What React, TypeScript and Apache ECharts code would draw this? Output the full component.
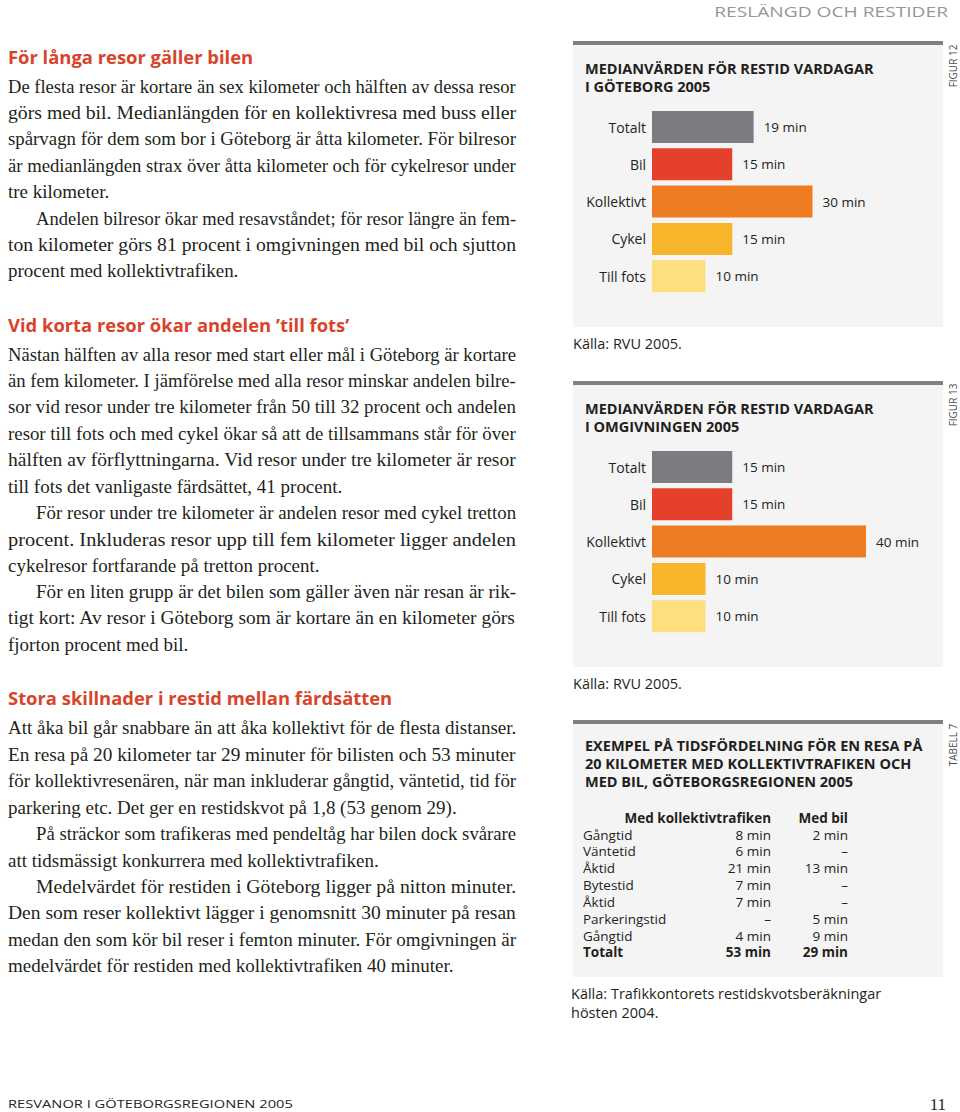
import React, { useEffect, useRef } from "react";
import * as echarts from "echarts";

// ---------- data ----------
const categories = ["Totalt", "Bil", "Kollektivt", "Cykel", "Till fots"];
const goteborgMinutes = [19, 15, 30, 15, 10];
const omgivningenMinutes = [15, 15, 40, 10, 10];
const modeColors = ["#7e7b80", "#e5412a", "#ed7c22", "#f6b52a", "#fddf7f"];

const tableHeader = ["Med kollektivtrafiken", "Med bil"];
const tableRows = ["Gångtid", "Väntetid", "Åktid", "Bytestid", "Åktid", "Parkeringstid", "Gångtid", "Totalt"];
const tableKollektiv = ["8 min", "6 min", "21 min", "7 min", "7 min", "–", "4 min", "53 min"];
const tableBil = ["2 min", "–", "13 min", "–", "–", "5 min", "9 min", "29 min"];

const fig12Title = ["MEDIANVÄRDEN FÖR RESTID VARDAGAR", "I GÖTEBORG 2005"];
const fig13Title = ["MEDIANVÄRDEN FÖR RESTID VARDAGAR", "I OMGIVNINGEN 2005"];
const table7Title = [
  "EXEMPEL PÅ TIDSFÖRDELNING FÖR EN RESA PÅ",
  "20 KILOMETER MED KOLLEKTIVTRAFIKEN OCH",
  "MED BIL, GÖTEBORGSREGIONEN 2005",
];
const sourceRvu = "Källa: RVU 2005.";
const sourceTable = ["Källa: Trafikkontorets restidskvotsberäkningar", "hösten 2004."];

const pageHeader = "RESLÄNGD OCH RESTIDER";
const pageFooter = "RESVANOR I GÖTEBORGSREGIONEN 2005";
const pageNumber = "11";

const section1Heading = "För långa resor gäller bilen";
const section1Paragraphs = [
  [
    "De flesta resor är kortare än sex kilometer och hälften av dessa resor",
    "görs med bil. Medianlängden för en kollektivresa med buss eller",
    "spårvagn för dem som bor i Göteborg är åtta kilometer. För bilresor",
    "är medianlängden strax över åtta kilometer och för cykelresor under",
    "tre kilometer.",
  ],
  [
    "Andelen bilresor ökar med resavståndet; för resor längre än fem-",
    "ton kilometer görs 81 procent i omgivningen med bil och sjutton",
    "procent med kollektivtrafiken.",
  ],
];
const section2Heading = "Vid korta resor ökar andelen ’till fots’";
const section2Paragraphs = [
  [
    "Nästan hälften av alla resor med start eller mål i Göteborg är kortare",
    "än fem kilometer. I jämförelse med alla resor minskar andelen bilre-",
    "sor vid resor under tre kilometer från 50 till 32 procent och andelen",
    "resor till fots och med cykel ökar så att de tillsammans står för över",
    "hälften av förflyttningarna. Vid resor under tre kilometer är resor",
    "till fots det vanligaste färdsättet, 41 procent.",
  ],
  [
    "För resor under tre kilometer är andelen resor med cykel tretton",
    "procent. Inkluderas resor upp till fem kilometer ligger andelen",
    "cykelresor fortfarande på tretton procent.",
  ],
  [
    "För en liten grupp är det bilen som gäller även när resan är rik-",
    "tigt kort: Av resor i Göteborg som är kortare än en kilometer görs",
    "fjorton procent med bil.",
  ],
];
const section3Heading = "Stora skillnader i restid mellan färdsätten";
const section3Paragraphs = [
  [
    "Att åka bil går snabbare än att åka kollektivt för de flesta distanser.",
    "En resa på 20 kilometer tar 29 minuter för bilisten och 53 minuter",
    "för kollektivresenären, när man inkluderar gångtid, väntetid, tid för",
    "parkering etc. Det ger en restidskvot på 1,8 (53 genom 29).",
  ],
  [
    "På sträckor som trafikeras med pendeltåg har bilen dock svårare",
    "att tidsmässigt konkurrera med kollektivtrafiken.",
  ],
  [
    "Medelvärdet för restiden i Göteborg ligger på nitton minuter.",
    "Den som reser kollektivt lägger i genomsnitt 30 minuter på resan",
    "medan den som kör bil reser i femton minuter. För omgivningen är",
    "medelvärdet för restiden med kollektivtrafiken 40 minuter.",
  ],
];

// ---------- styles ----------
const SANS = "'Open Sans', 'Noto Sans', 'DejaVu Sans', sans-serif";
const SERIF = "'Liberation Serif', 'DejaVu Serif', serif";
const INK = "#231f20";
const RED = "#d8432b";
const PANEL = "#f4f4f4";
const PANEL_BAR = "#808080";

export default function App() {
  const ref = useRef<HTMLDivElement>(null);

  useEffect(() => {
    if (!ref.current) return;
    const chart = echarts.init(ref.current, undefined, { renderer: "svg" });

    const ctx = document.createElement("canvas").getContext("2d")!;
    const measure = (text: string, font: string) => {
      ctx.font = font;
      return ctx.measureText(text).width;
    };

    const g: any[] = [];
    const text = (x: number, y: number, t: string, o: any = {}) => {
      g.push({
        type: "text",
        x,
        y,
        scaleX: o.scaleX ?? 1,
        rotation: o.rotation ?? 0,
        z: 10,
        style: {
          text: t,
          fill: o.fill ?? INK,
          fontSize: o.fontSize ?? 13,
          fontFamily: o.fontFamily ?? SANS,
          fontWeight: o.fontWeight ?? "normal",
          align: o.align ?? "left",
          verticalAlign: "middle",
        },
      });
    };

    // ----- prose (left column), justified per line -----
    const COL_X = 8;
    const COL_W = 508;
    const INDENT = 28;
    const LINE = 26.4;
    const BASE = 18;
    const baseFont = `${BASE}px ${SERIF}`;
    const allSections = [section1Paragraphs, section2Paragraphs, section3Paragraphs];
    const ratios: number[] = [];
    allSections.forEach((paras) =>
      paras.forEach((lines, pi) =>
        lines.forEach((l, li) => {
          if (li === lines.length - 1) return;
          const ind = pi > 0 && li === 0 ? INDENT : 0;
          ratios.push((COL_W - ind) / measure(l, baseFont));
        })
      )
    );
    ratios.sort((a, b) => a - b);
    const med = ratios[Math.floor(ratios.length / 2)];
    const bodySize = Math.max(15, Math.min(20, BASE * med));
    const bodyFont = `${bodySize}px ${SERIF}`;

    const layoutSection = (heading: string, hy: number, paras: string[][], by: number) => {
      text(COL_X, hy, heading, { fill: RED, fontSize: 18.4, fontWeight: "bold" });
      let k = 0;
      paras.forEach((lines, pi) =>
        lines.forEach((l, li) => {
          const ind = pi > 0 && li === 0 ? INDENT : 0;
          const last = li === lines.length - 1;
          const w = measure(l, bodyFont);
          let sx = last ? 1 : (COL_W - ind) / w;
          sx = Math.max(0.9, Math.min(1.12, sx));
          text(COL_X + ind, by + k * LINE, l, { fontSize: bodySize, fontFamily: SERIF, scaleX: sx });
          k++;
        })
      );
    };
    layoutSection(section1Heading, 56, section1Paragraphs, 86);
    layoutSection(section2Heading, 324, section2Paragraphs, 354);
    layoutSection(section3Heading, 697, section3Paragraphs, 728);

    // ----- page header / footer -----
    const hdrFont = `14px ${SANS}`;
    text(948, 12, pageHeader, {
      fill: "#969696",
      fontSize: 14,
      align: "right",
      scaleX: 234 / measure(pageHeader, hdrFont),
    });
    const ftrFont = `10.5px ${SANS}`;
    text(8, 1104, pageFooter, { fontSize: 10.5, scaleX: 285 / measure(pageFooter, ftrFont) });
    text(946, 1104, pageNumber, { fontSize: 17, fontFamily: SERIF, align: "right" });

    // ----- right column panels -----
    const PX = 573;
    const PW = 370;
    const panel = (top: number, bottom: number) => {
      g.push({ type: "rect", z: 0, shape: { x: PX, y: top, width: PW, height: bottom - top }, style: { fill: PANEL } });
      g.push({ type: "rect", z: 1, shape: { x: PX, y: top - 4, width: PW, height: 4 }, style: { fill: PANEL_BAR } });
    };
    panel(45, 327);
    panel(385, 667);
    panel(724, 977);

    const titleLines = (lines: string[], y0: number, step: number) =>
      lines.forEach((l, i) => text(585, y0 + i * step, l, { fontSize: 14.5, fontWeight: "bold" }));
    titleLines(fig12Title, 68.3, 18.6);
    titleLines(fig13Title, 408.3, 18.6);
    titleLines(table7Title, 745, 18.4);

    text(953, 66, "FIGUR 12", { fontSize: 10, rotation: Math.PI / 2, align: "center", fill: "#4a4a4a" });
    text(953, 405, "FIGUR 13", { fontSize: 10, rotation: Math.PI / 2, align: "center", fill: "#4a4a4a" });
    text(953, 745, "TABELL 7", { fontSize: 10, rotation: Math.PI / 2, align: "center", fill: "#4a4a4a" });

    text(573, 343, sourceRvu, { fontSize: 14.5 });
    text(573, 683, sourceRvu, { fontSize: 14.5 });

    // ----- table 7 -----
    const TY = 817.7;
    const TSTEP = 16.83;
    text(771, TY, tableHeader[0], { fontSize: 13.5, fontWeight: "bold", align: "right" });
    text(848, TY, tableHeader[1], { fontSize: 13.5, fontWeight: "bold", align: "right" });
    tableRows.forEach((r, i) => {
      const y = TY + (i + 1) * TSTEP;
      const bold = i === tableRows.length - 1 ? "bold" : "normal";
      text(583, y, r, { fontSize: 13.5, fontWeight: bold });
      text(771, y, tableKollektiv[i], { fontSize: 13.5, fontWeight: bold, align: "right" });
      text(848, y, tableBil[i], { fontSize: 13.5, fontWeight: bold, align: "right" });
    });
    text(571, 993, sourceTable[0], { fontSize: 14.5 });
    text(571, 1012, sourceTable[1], { fontSize: 14.5 });

    // ----- bar charts -----
    const GRID_LEFT = 652;
    const PX_PER_MIN = 5.35;
    const AXIS_MAX = 50;
    const ROW = 37.3;
    const mkY = (gi: number) => ({
      gridIndex: gi,
      type: "category",
      data: categories,
      inverse: true,
      axisLine: { show: false },
      axisTick: { show: false },
      splitLine: { show: false },
      axisLabel: { margin: 6, fontSize: 14, color: INK, fontFamily: SANS },
    });
    const mkX = (gi: number) => ({ gridIndex: gi, type: "value", min: 0, max: AXIS_MAX, show: false });
    const mkSeries = (gi: number, vals: number[]) => ({
      type: "bar",
      xAxisIndex: gi,
      yAxisIndex: gi,
      barWidth: 32,
      data: vals.map((v, i) => ({ value: v, itemStyle: { color: modeColors[i] } })),
      label: {
        show: true,
        position: "right",
        distance: 10,
        formatter: "{c} min",
        fontSize: 13.5,
        color: INK,
        fontFamily: SANS,
      },
      z: 5,
    });

    chart.setOption({
      animation: false,
      backgroundColor: "#ffffff",
      grid: [
        { left: GRID_LEFT, top: 127 - ROW / 2, width: PX_PER_MIN * AXIS_MAX, height: ROW * 5 },
        { left: GRID_LEFT, top: 467 - ROW / 2, width: PX_PER_MIN * AXIS_MAX, height: ROW * 5 },
      ],
      xAxis: [mkX(0), mkX(1)],
      yAxis: [mkY(0), mkY(1)],
      series: [mkSeries(0, goteborgMinutes), mkSeries(1, omgivningenMinutes)],
      graphic: { elements: g },
    });

    return () => chart.dispose();
  }, []);

  return (
    <div
      ref={ref}
      style={{ position: "absolute", left: 0, top: 0, width: 960, height: 1112, background: "#fff" }}
    />
  );
}
